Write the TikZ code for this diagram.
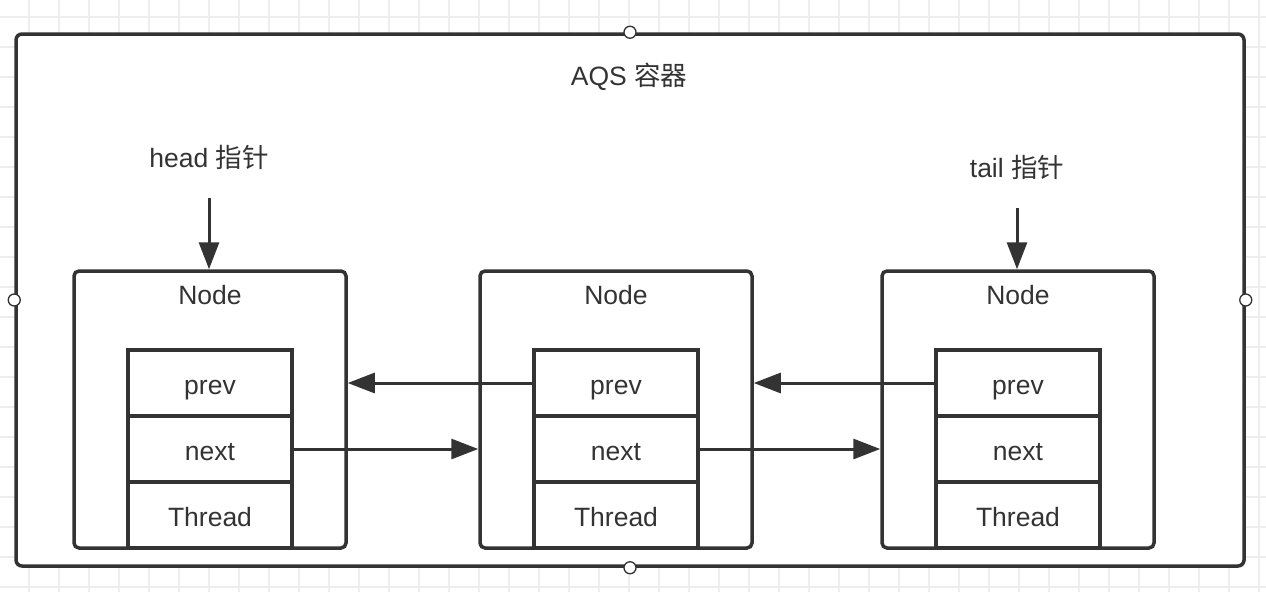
\documentclass[tikz,border=0pt]{standalone}
\usepackage{fontspec}
\setmainfont{Liberation Sans}
\newfontfamily\cjk{Noto Sans CJK SC}
\usetikzlibrary{arrows.meta}
\definecolor{ink}{HTML}{333333}
\definecolor{gridc}{HTML}{EEEEEE}
\tikzset{
  lbl/.style={text=ink, font=\fontsize{26.5}{30}\selectfont, inner sep=0pt},
  container/.style={draw=ink, line width=3.5pt, fill=white, rounded corners=6pt, minimum width=1228pt, minimum height=532pt, inner sep=0pt},
  handle/.style={circle, draw=ink, line width=1.3pt, fill=white, minimum size=12pt, inner sep=0pt},
  nodebox/.style={draw=ink, line width=3.5pt, rounded corners=5pt, minimum width=272pt, minimum height=277pt, inner sep=0pt},
  cell/.style={draw=ink, line width=3.5pt, minimum width=164pt, minimum height=66pt, inner sep=0pt, text height=22pt, text depth=0pt, text=ink, font=\fontsize{26.5}{30}\selectfont},
  link/.style={draw=ink, line width=3pt, -{Triangle[length=27pt,width=20pt]}},
}
\begin{document}
\begin{tikzpicture}[x=1pt,y=-1pt]
\path[use as bounding box, fill=white] (0,0) rectangle (1266,592);
% background grid
\foreach \k in {0,...,41} { \draw[gridc, line width=1.8pt] ({29.3+30*\k},0) -- ({29.3+30*\k},592); }
\foreach \k in {0,...,19} { \draw[gridc, line width=1.8pt] (0,{16.7+30*\k}) -- (1266,{16.7+30*\k}); }

% container
\node[container] (aqs) at (630,300) {};
\node[lbl] (title) at (629,77) {AQS {\cjk 容器}};

% node boxes
\node[nodebox] (b1) at (210,409.5) {};
\node[nodebox] (b2) at (616,409.5) {};
\node[nodebox] (b3) at (1018,409.5) {};
\node[lbl] (t1) at (210,295) {Node};
\node[lbl] (t2) at (616,295) {Node};
\node[lbl] (t3) at (1018,295) {Node};

% cells
\foreach \i/\x in {1/210,2/616,3/1018} {
  \node[cell] (p\i) at (\x,383) {prev};
  \node[cell] (n\i) at (\x,449) {next};
  \node[cell] (h\i) at (\x,515) {Thread};
}

% pointers
\node[lbl] (head) at (209,157) {head {\cjk 指针}};
\node[lbl] (tail) at (1017,167) {tail {\cjk 指针}};
\coordinate (hs) at (209,198);
\coordinate (ts) at (1017,208);
\draw[link] (hs) -- (hs |- b1.north);
\draw[link] (ts) -- (ts |- b3.north);

% links
\draw[link] (p2.west) -- (b1.east |- p2.west);
\draw[link] (p3.west) -- (b2.east |- p3.west);
\draw[link] (n1.east) -- (b2.west |- n1.east);
\draw[link] (n2.east) -- (b3.west |- n2.east);

% handles
\node[handle] (hN) at (aqs.north) {};
\node[handle] (hS) at (aqs.south) {};
\node[handle] (hW) at (aqs.west) {};
\node[handle] (hE) at (aqs.east) {};
\end{tikzpicture}
\end{document}
